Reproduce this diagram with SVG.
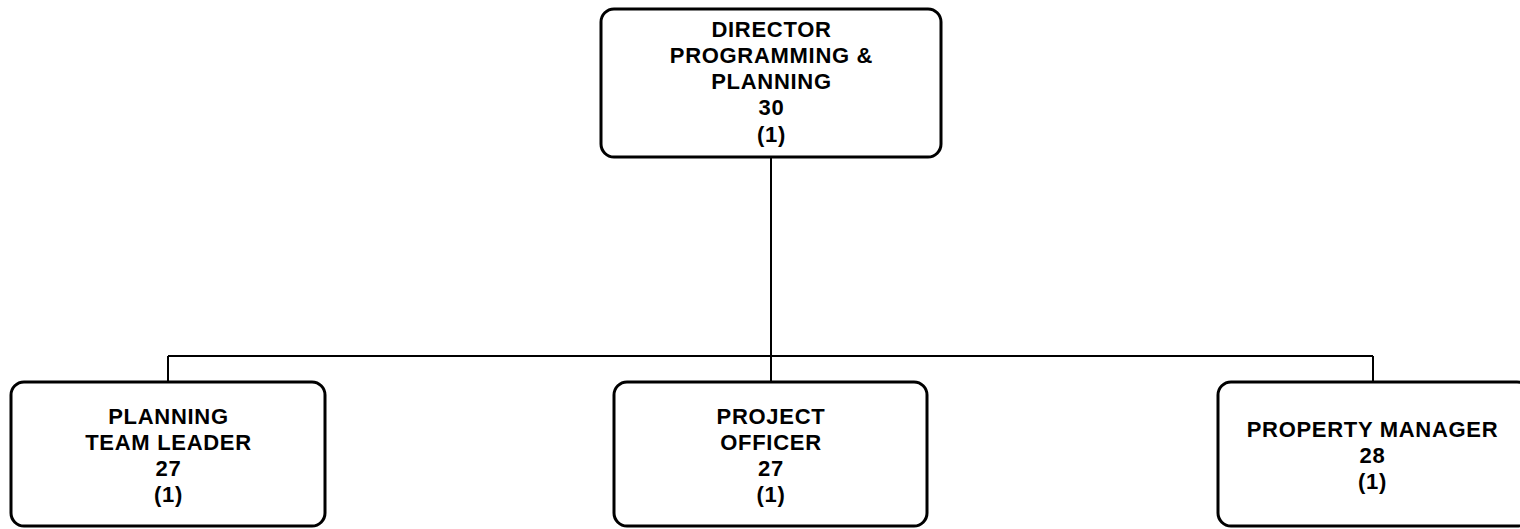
<svg xmlns="http://www.w3.org/2000/svg" width="1520" height="529" viewBox="0 0 1520 529">
<style>
.box{fill:#fff;stroke:#000;stroke-width:3}
.t{font-family:"Liberation Sans",Arial,sans-serif;font-weight:bold;font-size:22px;letter-spacing:0.7px;fill:#000;text-anchor:middle}
.c{fill:none;stroke:#000;stroke-width:2}
</style>
<rect width="1520" height="529" fill="#fff"/>
<g id="connectors">
<path class="c" d="M771,157 V356"/>
<path class="c" d="M168,356 H1373"/>
<path class="c" d="M168,356 V382"/>
<path class="c" d="M771,356 V382"/>
<path class="c" d="M1373,356 V382"/>
</g>
<g id="director">
<rect class="box" x="601" y="9" width="340" height="148" rx="13"/>
<text class="t" x="771.5" y="36.5">DIRECTOR</text>
<text class="t" x="771.5" y="62.75">PROGRAMMING &amp;</text>
<text class="t" x="771.5" y="89">PLANNING</text>
<text class="t" x="771.5" y="115.25">30</text>
<text class="t" x="771.5" y="141.5">(1)</text>
</g>
<g id="planning-team-leader">
<rect class="box" x="11" y="382" width="314" height="144" rx="13"/>
<text class="t" x="168.5" y="423.5">PLANNING</text>
<text class="t" x="168.5" y="449.75">TEAM LEADER</text>
<text class="t" x="168.5" y="476">27</text>
<text class="t" x="168.5" y="502.25">(1)</text>
</g>
<g id="project-officer">
<rect class="box" x="614" y="382" width="313" height="144" rx="13"/>
<text class="t" x="771" y="423.5">PROJECT</text>
<text class="t" x="771" y="449.75">OFFICER</text>
<text class="t" x="771" y="476">27</text>
<text class="t" x="771" y="502.25">(1)</text>
</g>
<g id="property-manager">
<rect class="box" x="1218" y="382" width="312" height="144" rx="13"/>
<text class="t" x="1372.5" y="436.5">PROPERTY MANAGER</text>
<text class="t" x="1372.5" y="462.75">28</text>
<text class="t" x="1372.5" y="489">(1)</text>
</g>
</svg>
